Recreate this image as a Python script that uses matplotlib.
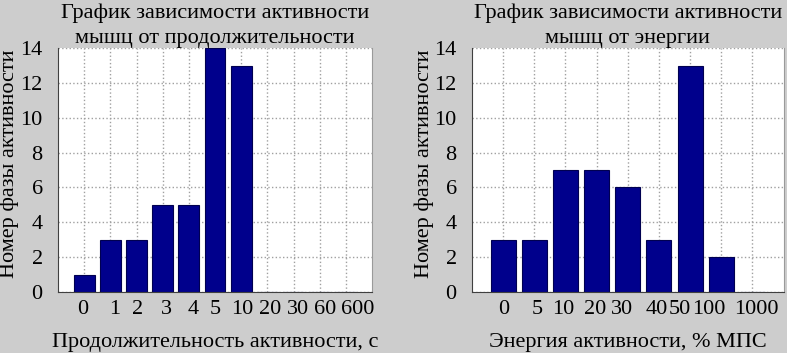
import matplotlib
matplotlib.use('Agg')
from matplotlib import pyplot as plt

# данные: продолжительность активности
dur_labels = ['0', '1', '2', '3', '4', '5', '10', '20', '30', '60', '600']
dur_values = [1, 3, 3, 5, 5, 14, 13, 0, 0, 0, 0]

# данные: энергия активности
en_labels = ['0', '5', '10', '20', '30', '40', '50', '100', '1000']
en_values = [3, 3, 7, 7, 6, 3, 13, 2, 0]

y_ticks = [0, 2, 4, 6, 8, 10, 12, 14]

# небольшие сдвиги подписей по x (в точках), как на исходнике
dur_shift = [-1, 3, 0.7, 2.5, 3, 0, 0.7, 1.7, 3, 3.6, 8.4]
en_shift = [0.7, 1.8, -1.8, -1.4, -4.3, -1.8, -7.2, -9, 2.7]

bg = '#cdcdcd'
bar_col = '#00008c'
plt.rcParams['font.family'] = ['Liberation Serif', 'DejaVu Serif']
fs = 16


def draw(ax, labels, values, shifts, xmax, title, xlabel, ylab_x):
    pos = list(range(1, len(labels) + 1))
    ax.set_axisbelow(True)
    ax.bar(pos, values, width=0.8, color=bar_col, edgecolor='#000050', linewidth=0.8)
    ax.set_xlim(0, xmax)
    ax.set_ylim(0, 14)
    ax.set_xticks(pos)
    ax.set_xticklabels([])
    for p, lab, dx in zip(pos, labels, shifts):
        ax.annotate(lab, xy=(p, 0), xycoords=('data', 'axes fraction'),
                    xytext=(dx, -6), textcoords='offset points',
                    ha='center', va='top', fontsize=fs)
    ax.set_yticks(y_ticks)
    ax.set_yticklabels([str(v) for v in y_ticks], fontsize=fs)
    ax.tick_params(length=0)
    ax.tick_params(axis='y', pad=11)
    ax.grid(True, linestyle=':', color='#a0a0a0', linewidth=1.0)
    ax.spines['top'].set_visible(False)
    ax.spines['right'].set_color('#9a9a9a')
    ax.spines['left'].set_color('#404040')
    ax.spines['bottom'].set_color('#404040')
    ax.set_title(title, fontsize=fs, linespacing=1.4, pad=2)
    ax.set_xlabel(xlabel, fontsize=fs, labelpad=26)
    ax.set_ylabel('Номер фазы активности', fontsize=fs)
    ax.yaxis.set_label_coords(ylab_x, 0.525)


fig = plt.figure(figsize=(7.87, 3.53), dpi=100, facecolor=bg)
ax1 = fig.add_axes([0.0737, 0.1728, 0.399, 0.691])
ax2 = fig.add_axes([0.5997, 0.1728, 0.396, 0.691])

draw(ax1, dur_labels, dur_values, dur_shift, 12,
     'График зависимости активности\nмышц от продолжительности',
     'Продолжительность активности, с', -0.124)
draw(ax2, en_labels, en_values, en_shift, 10,
     'График зависимости активности\nмышц от энергии',
     'Энергия активности, % МПС', -0.122)

fig.savefig('out.png', dpi=100, facecolor=bg)
